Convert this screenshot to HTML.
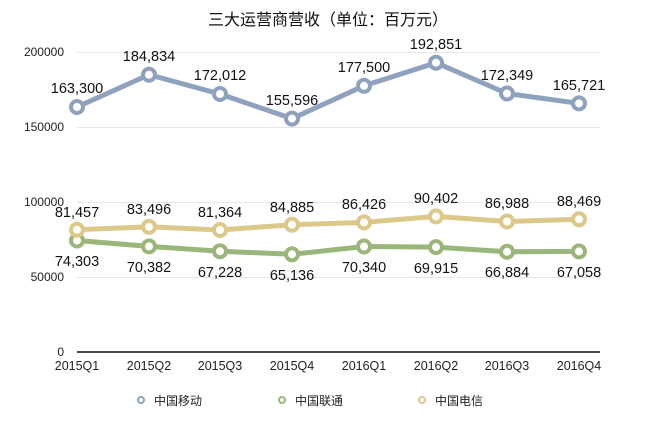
<!DOCTYPE html>
<html><head><meta charset="utf-8"><style>body{margin:0;background:#fff}</style></head><body>
<svg width="656" height="423" xmlns="http://www.w3.org/2000/svg" font-family="Liberation Sans, Noto Sans CJK SC, sans-serif">
<rect width="656" height="423" fill="#fff"/>
<text x="328" y="25" font-size="16" text-anchor="middle" fill="#111">三大运营商营收（单位：百万元）</text>
<g stroke="#e6e6e6" stroke-width="1">
<line x1="77" y1="52.5" x2="600" y2="52.5"/><line x1="77" y1="127.5" x2="600" y2="127.5"/>
<line x1="77" y1="202.5" x2="600" y2="202.5"/><line x1="77" y1="277.5" x2="600" y2="277.5"/>
</g>
<line x1="77" y1="352" x2="600" y2="352" stroke="#111" stroke-width="1.5"/>
<g font-size="12" fill="#222" text-anchor="end">
<text x="64" y="56">200000</text><text x="64" y="131">150000</text><text x="64" y="206">100000</text><text x="64" y="281">50000</text><text x="64" y="356">0</text>
</g>
<g font-size="12.5" fill="#222" text-anchor="middle">
<text x="77" y="370">2015Q1</text><text x="149" y="370">2015Q2</text><text x="220" y="370">2015Q3</text><text x="292" y="370">2015Q4</text>
<text x="364" y="370">2016Q1</text><text x="436" y="370">2016Q2</text><text x="507" y="370">2016Q3</text><text x="579" y="370">2016Q4</text>
</g>
<g fill="none" stroke-width="5" stroke-linejoin="round">
<polyline stroke="#8fa2bd" points="77,107 149,74.7 220,94 292,118.6 364,85.8 436,62.7 507,93.5 579,103.4"/>
<polyline stroke="#9ab67a" points="77,240.5 149,246.4 220,251.2 292,254.3 364,246.5 436,247.1 507,251.7 579,251.4"/>
<polyline stroke="#dcc98a" points="77,229.8 149,226.8 220,230 292,224.7 364,222.4 436,216.4 507,221.5 579,219.3"/>
</g>
<g fill="#fff" stroke-width="4">
<g stroke="#8fa2bd"><circle cx="77" cy="107" r="6"/><circle cx="149" cy="74.7" r="6"/><circle cx="220" cy="94" r="6"/><circle cx="292" cy="118.6" r="6"/><circle cx="364" cy="85.8" r="6"/><circle cx="436" cy="62.7" r="6"/><circle cx="507" cy="93.5" r="6"/><circle cx="579" cy="103.4" r="6"/></g>
<g stroke="#9ab67a"><circle cx="77" cy="240.5" r="6"/><circle cx="149" cy="246.4" r="6"/><circle cx="220" cy="251.2" r="6"/><circle cx="292" cy="254.3" r="6"/><circle cx="364" cy="246.5" r="6"/><circle cx="436" cy="247.1" r="6"/><circle cx="507" cy="251.7" r="6"/><circle cx="579" cy="251.4" r="6"/></g>
<g stroke="#dcc98a"><circle cx="77" cy="229.8" r="6"/><circle cx="149" cy="226.8" r="6"/><circle cx="220" cy="230" r="6"/><circle cx="292" cy="224.7" r="6"/><circle cx="364" cy="222.4" r="6"/><circle cx="436" cy="216.4" r="6"/><circle cx="507" cy="221.5" r="6"/><circle cx="579" cy="219.3" r="6"/></g>
</g>
<g font-size="14.5" fill="#111" text-anchor="middle">
<text x="77" y="93">163,300</text><text x="149" y="61">184,834</text><text x="220" y="80">172,012</text><text x="292" y="105">155,596</text>
<text x="364" y="72">177,500</text><text x="436" y="49">192,851</text><text x="507" y="80">172,349</text><text x="579" y="90">165,721</text>
<text x="77" y="217">81,457</text><text x="149" y="214">83,496</text><text x="220" y="217">81,364</text><text x="292" y="212">84,885</text>
<text x="364" y="209">86,426</text><text x="436" y="203">90,402</text><text x="507" y="208">86,988</text><text x="579" y="206">88,469</text>
<text x="77" y="266">74,303</text><text x="149" y="272">70,382</text><text x="220" y="277">67,228</text><text x="292" y="280">65,136</text>
<text x="364" y="272">70,340</text><text x="436" y="273">69,915</text><text x="507" y="277">66,884</text><text x="579" y="277">67,058</text>
</g>
<g fill="#fff" stroke-width="2">
<circle cx="141" cy="400" r="3" stroke="#8fa2bd"/><circle cx="282" cy="400" r="3" stroke="#9ab67a"/><circle cx="422" cy="400" r="3" stroke="#dcc98a"/>
</g>
<g font-size="12" fill="#222">
<text x="154" y="405">中国移动</text><text x="295" y="405">中国联通</text><text x="435" y="405">中国电信</text>
</g>
</svg>
</body></html>
